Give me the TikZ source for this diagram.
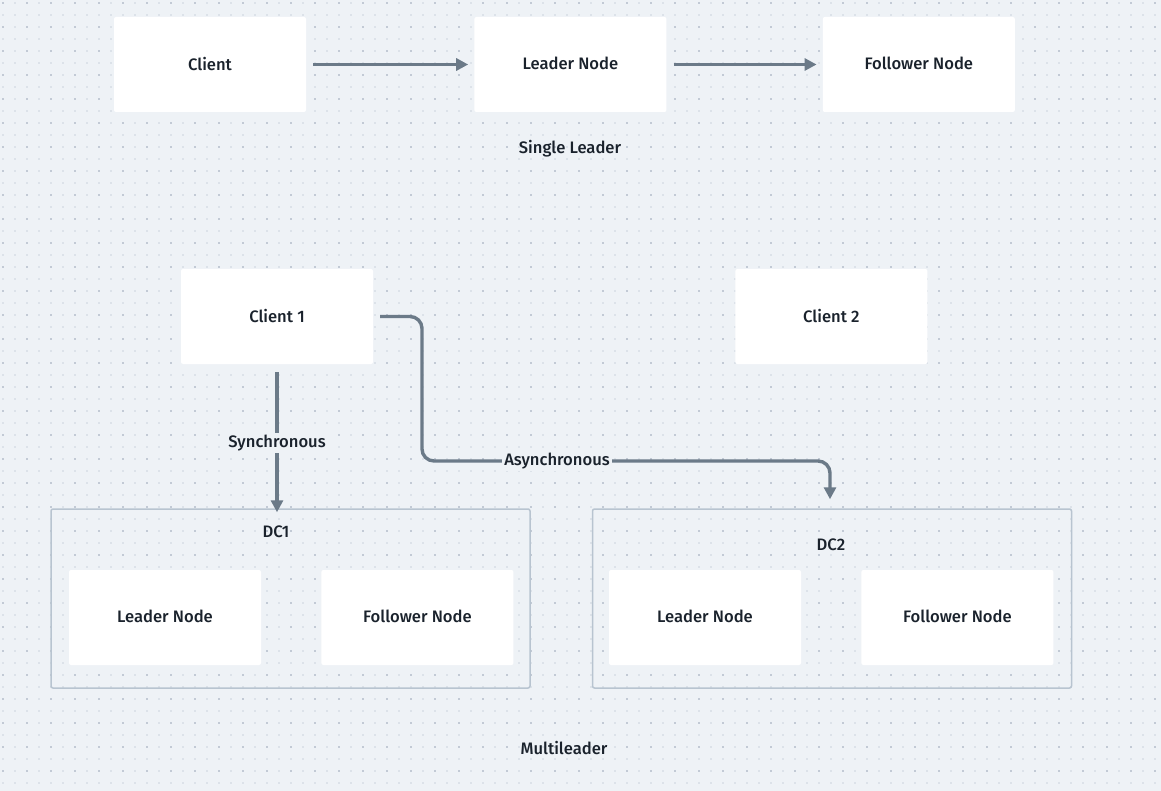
\documentclass[tikz,border=0pt]{standalone}
\usepackage{fontspec}
\IfFontExistsTF{Fira Sans Medium}{\setmainfont{Fira Sans Medium}}{\setmainfont{Fira Sans}}
\usepackage{tikz}
\usetikzlibrary{arrows.meta}
\usetikzlibrary{positioning}
\definecolor{bgcol}{HTML}{EEF2F6}
\definecolor{dotlight}{HTML}{DCE2E9}
\definecolor{dotdark}{HTML}{C2CAD5}
\definecolor{linecol}{HTML}{6B7A88}
\definecolor{framecol}{HTML}{B8C4D0}
\definecolor{textcol}{HTML}{1A222C}
\tikzstyle{block} = [rectangle, fill=white, rounded corners=2pt, minimum width=192pt, minimum height=95pt, inner sep=0pt, text depth=0.2em, text=textcol]
\tikzstyle{frame} = [rectangle, draw=framecol, line width=1.5pt, rounded corners=2pt, minimum width=479pt, minimum height=179pt, inner sep=0pt]
\tikzstyle{caption} = [text=textcol, fill=bgcol, inner sep=2pt]
\tikzstyle{line} = [draw=linecol, line width=3.4pt, -{Triangle[length=12pt,width=12pt]}]

\begin{document}
\begin{tikzpicture}[x=1pt, y=-1pt, font=\fontsize{16.6pt}{19pt}\selectfont]
   % Background and dot grid
   \fill[bgcol] (0,0) rectangle (1161,791);
   \useasboundingbox (0,0) rectangle (1161,791);
   \foreach \y in {3,15,...,791}
      \draw[dotlight, line width=2pt, dash pattern=on 2pt off 10pt] (2,\y) -- (1161,\y);
   \foreach \y in {3,27,...,791}
      \draw[dotdark, line width=2pt, dash pattern=on 2pt off 22pt] (2,\y) -- (1161,\y);

   % Single leader
   \node [block] (client) at (210,64.5) {Client};
   \node [block, right = 168pt of client] (leader) {Leader Node};
   \node [block, right = 156pt of leader] (follower) {Follower Node};
   \node [text=textcol] (single) at (570,149) {Single Leader};
   \draw[line, shorten <=7pt, shorten >=6pt] (client) -- (leader);
   \draw[line, shorten <=7pt, shorten >=6pt] (leader) -- (follower);

   % Multileader
   \node [block] (c1) at (277,316.5) {Client 1};
   \node [block, right = 362pt of c1] (c2) {Client 2};
   \node [frame] (dc1) at (290.5,598.5) {};
   \node [frame, right = 61pt of dc1] (dc2) {};
   \node [text=textcol] (dc1-t) at (276,532) {DC1};
   \node [text=textcol] (dc2-t) at (831,545) {DC2};
   \node [block] (dc1-l) at (165,617.5) {Leader Node};
   \node [block, right = 60pt of dc1-l] (dc1-f) {Follower Node};
   \node [block] (dc2-l) at (705,617.5) {Leader Node};
   \node [block, right = 60pt of dc2-l] (dc2-f) {Follower Node};
   \node [text=textcol] (multi) at (564,748) {Multileader};

   \coordinate (turn) at (422,461);
   \coordinate (drop) at (830,461);
   \draw[line, shorten <=8pt, shorten >=-4pt] (c1.south) -- (c1.south |- dc1.north);
   \draw[line, rounded corners=12pt, shorten <=7pt, shorten >=9pt] (c1.east) -| (turn) -- (drop) -- (drop |- dc2.north);
   \node [caption] (sync) at (277,443) {Synchronous};
   \node [caption] (async) at (557,461) {Asynchronous};
\end{tikzpicture}
\end{document}
